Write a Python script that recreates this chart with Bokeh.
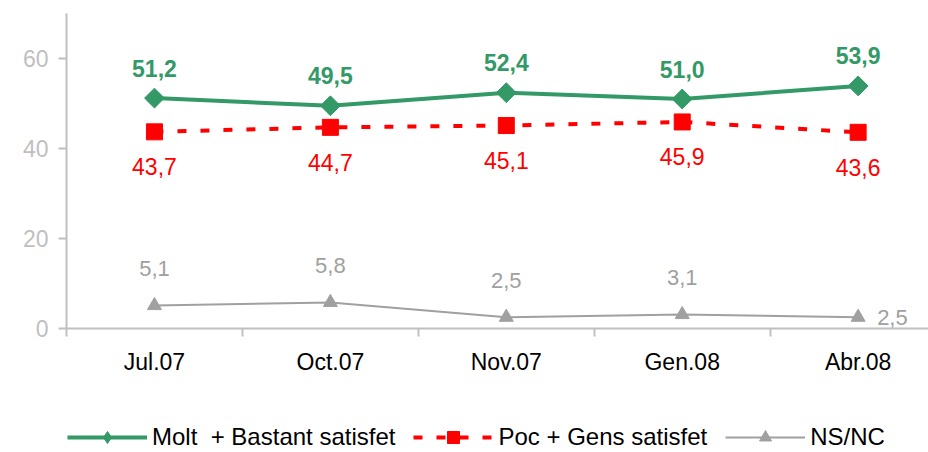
import math
from bokeh.plotting import figure
from bokeh.layouts import column
from bokeh.models import Range1d, FixedTicker, Legend, LegendItem
from bokeh.core.properties import value
from bokeh.embed import file_html
from bokeh.resources import INLINE

categories = ["Jul.07", "Oct.07", "Nov.07", "Gen.08", "Abr.08"]
molt_bastant = [51.2, 49.5, 52.4, 51.0, 53.9]
poc_gens = [43.7, 44.7, 45.1, 45.9, 43.6]
ns_nc = [5.1, 5.8, 2.5, 3.1, 2.5]
y_ticks = [0, 20, 40, 60]
series_names = ["Molt  + Bastant satisfet", "Poc + Gens satisfet", "NS/NC"]

GREEN = "#339966"
RED = "#ff0000"
GRAY = "#a0a0a0"
AXIS = "#bfbfbf"
FONT = "Liberation Sans"

xs = list(range(len(categories)))

def fmt(v):
    return f"{v:.1f}".replace(".", ",")

p = figure(frame_width=862, frame_height=315, output_backend="svg", toolbar_location=None,
           x_range=Range1d(-0.5, 4.4), y_range=Range1d(0, 70),
           min_border_left=66, min_border_right=0, min_border_top=13, min_border_bottom=50)
p.outline_line_color = None
p.xgrid.visible = False
p.ygrid.visible = False

# axes
p.xaxis.ticker = FixedTicker(ticks=xs, minor_ticks=[i - 0.5 for i in xs])
p.xaxis.major_label_overrides = {i: c for i, c in zip(xs, categories)}
p.xaxis.major_tick_out = 0
p.xaxis.major_tick_in = 0
p.xaxis.minor_tick_out = 8
p.xaxis.minor_tick_in = 0
p.xaxis.minor_tick_line_color = AXIS
p.xaxis.minor_tick_line_width = 2
p.xaxis.axis_line_color = AXIS
p.xaxis.axis_line_width = 2
p.xaxis.major_label_text_font = FONT
p.xaxis.major_label_text_font_size = "23px"
p.xaxis.major_label_text_color = "black"
p.xaxis.major_label_standoff = 12

p.yaxis.ticker = FixedTicker(ticks=y_ticks)
p.yaxis.minor_tick_line_color = None
p.yaxis.major_tick_out = 8
p.yaxis.major_tick_in = 0
p.yaxis.major_tick_line_color = AXIS
p.yaxis.major_tick_line_width = 2
p.yaxis.axis_line_color = AXIS
p.yaxis.axis_line_width = 2
p.yaxis.major_label_text_font = FONT
p.yaxis.major_label_text_font_size = "23px"
p.yaxis.major_label_text_color = AXIS
p.yaxis.major_label_standoff = 10

# series
p.line(xs, molt_bastant, line_color=GREEN, line_width=4)
p.scatter(xs, molt_bastant, marker="square", angle=math.pi / 4, size=14,
          fill_color=GREEN, line_color=GREEN)
p.line(xs, poc_gens, line_color=RED, line_width=4, line_dash="9 14")
p.scatter(xs, poc_gens, marker="square", size=16, fill_color=RED, line_color=RED)
p.line(xs, ns_nc, line_color=GRAY, line_width=2)
p.scatter(xs, ns_nc, marker="triangle", size=14, fill_color=GRAY, line_color=GRAY)

# data labels
p.text(xs, molt_bastant, text=[fmt(v) for v in molt_bastant], y_offset=-30,
       text_align="center", text_baseline="middle", text_color=GREEN,
       text_font=value(FONT), text_font_size="23px", text_font_style="bold")
p.text(xs, poc_gens, text=[fmt(v) for v in poc_gens], y_offset=35,
       text_align="center", text_baseline="middle", text_color=RED,
       text_font=value(FONT), text_font_size="23px")
p.text(xs[:-1], ns_nc[:-1], text=[fmt(v) for v in ns_nc[:-1]], y_offset=-37,
       text_align="center", text_baseline="middle", text_color=GRAY,
       text_font=value(FONT), text_font_size="22px")
p.text(xs[-1:], ns_nc[-1:], text=[fmt(v) for v in ns_nc[-1:]], x_offset=19,
       text_align="left", text_baseline="middle", text_color=GRAY,
       text_font=value(FONT), text_font_size="22px")

# legend strip (separate figure below the chart); its renderers hold the same
# data but lie outside its visible ranges, so only the legend glyphs show
q = figure(width=928, height=74, output_backend="svg", toolbar_location=None,
           x_range=Range1d(100, 101), y_range=Range1d(100, 101),
           min_border_left=0, min_border_right=0, min_border_top=0, min_border_bottom=0)
q.axis.visible = False
q.grid.visible = False
q.outline_line_color = None
lg_g = [q.line(xs, molt_bastant, line_color=GREEN, line_width=4),
        q.scatter(xs, molt_bastant, marker="diamond", fill_color=GREEN, line_color=GREEN)]
lg_r = [q.line(xs, poc_gens, line_color=RED, line_width=4, line_dash="9 14"),
        q.scatter(xs, poc_gens, marker="square", fill_color=RED, line_color=RED)]
lg_n = [q.line(xs, ns_nc, line_color=GRAY, line_width=2),
        q.scatter(xs, ns_nc, marker="triangle", fill_color=GRAY, line_color=GRAY)]

legend = Legend(items=[
    LegendItem(label=series_names[0], renderers=lg_g),
    LegendItem(label=series_names[1], renderers=lg_r),
    LegendItem(label=series_names[2], renderers=lg_n),
], orientation="horizontal", location=(1, 0))
legend.label_text_font = FONT
legend.label_text_font_size = "24px"
legend.label_text_color = "black"
legend.glyph_width = 80
legend.glyph_height = 30
legend.label_standoff = 5
legend.spacing = 18
legend.padding = 0
legend.margin = 0
legend.border_line_color = None
legend.background_fill_alpha = 0
q.add_layout(legend, "center")

open("out.html", "w").write(file_html(column(p, q), INLINE))
